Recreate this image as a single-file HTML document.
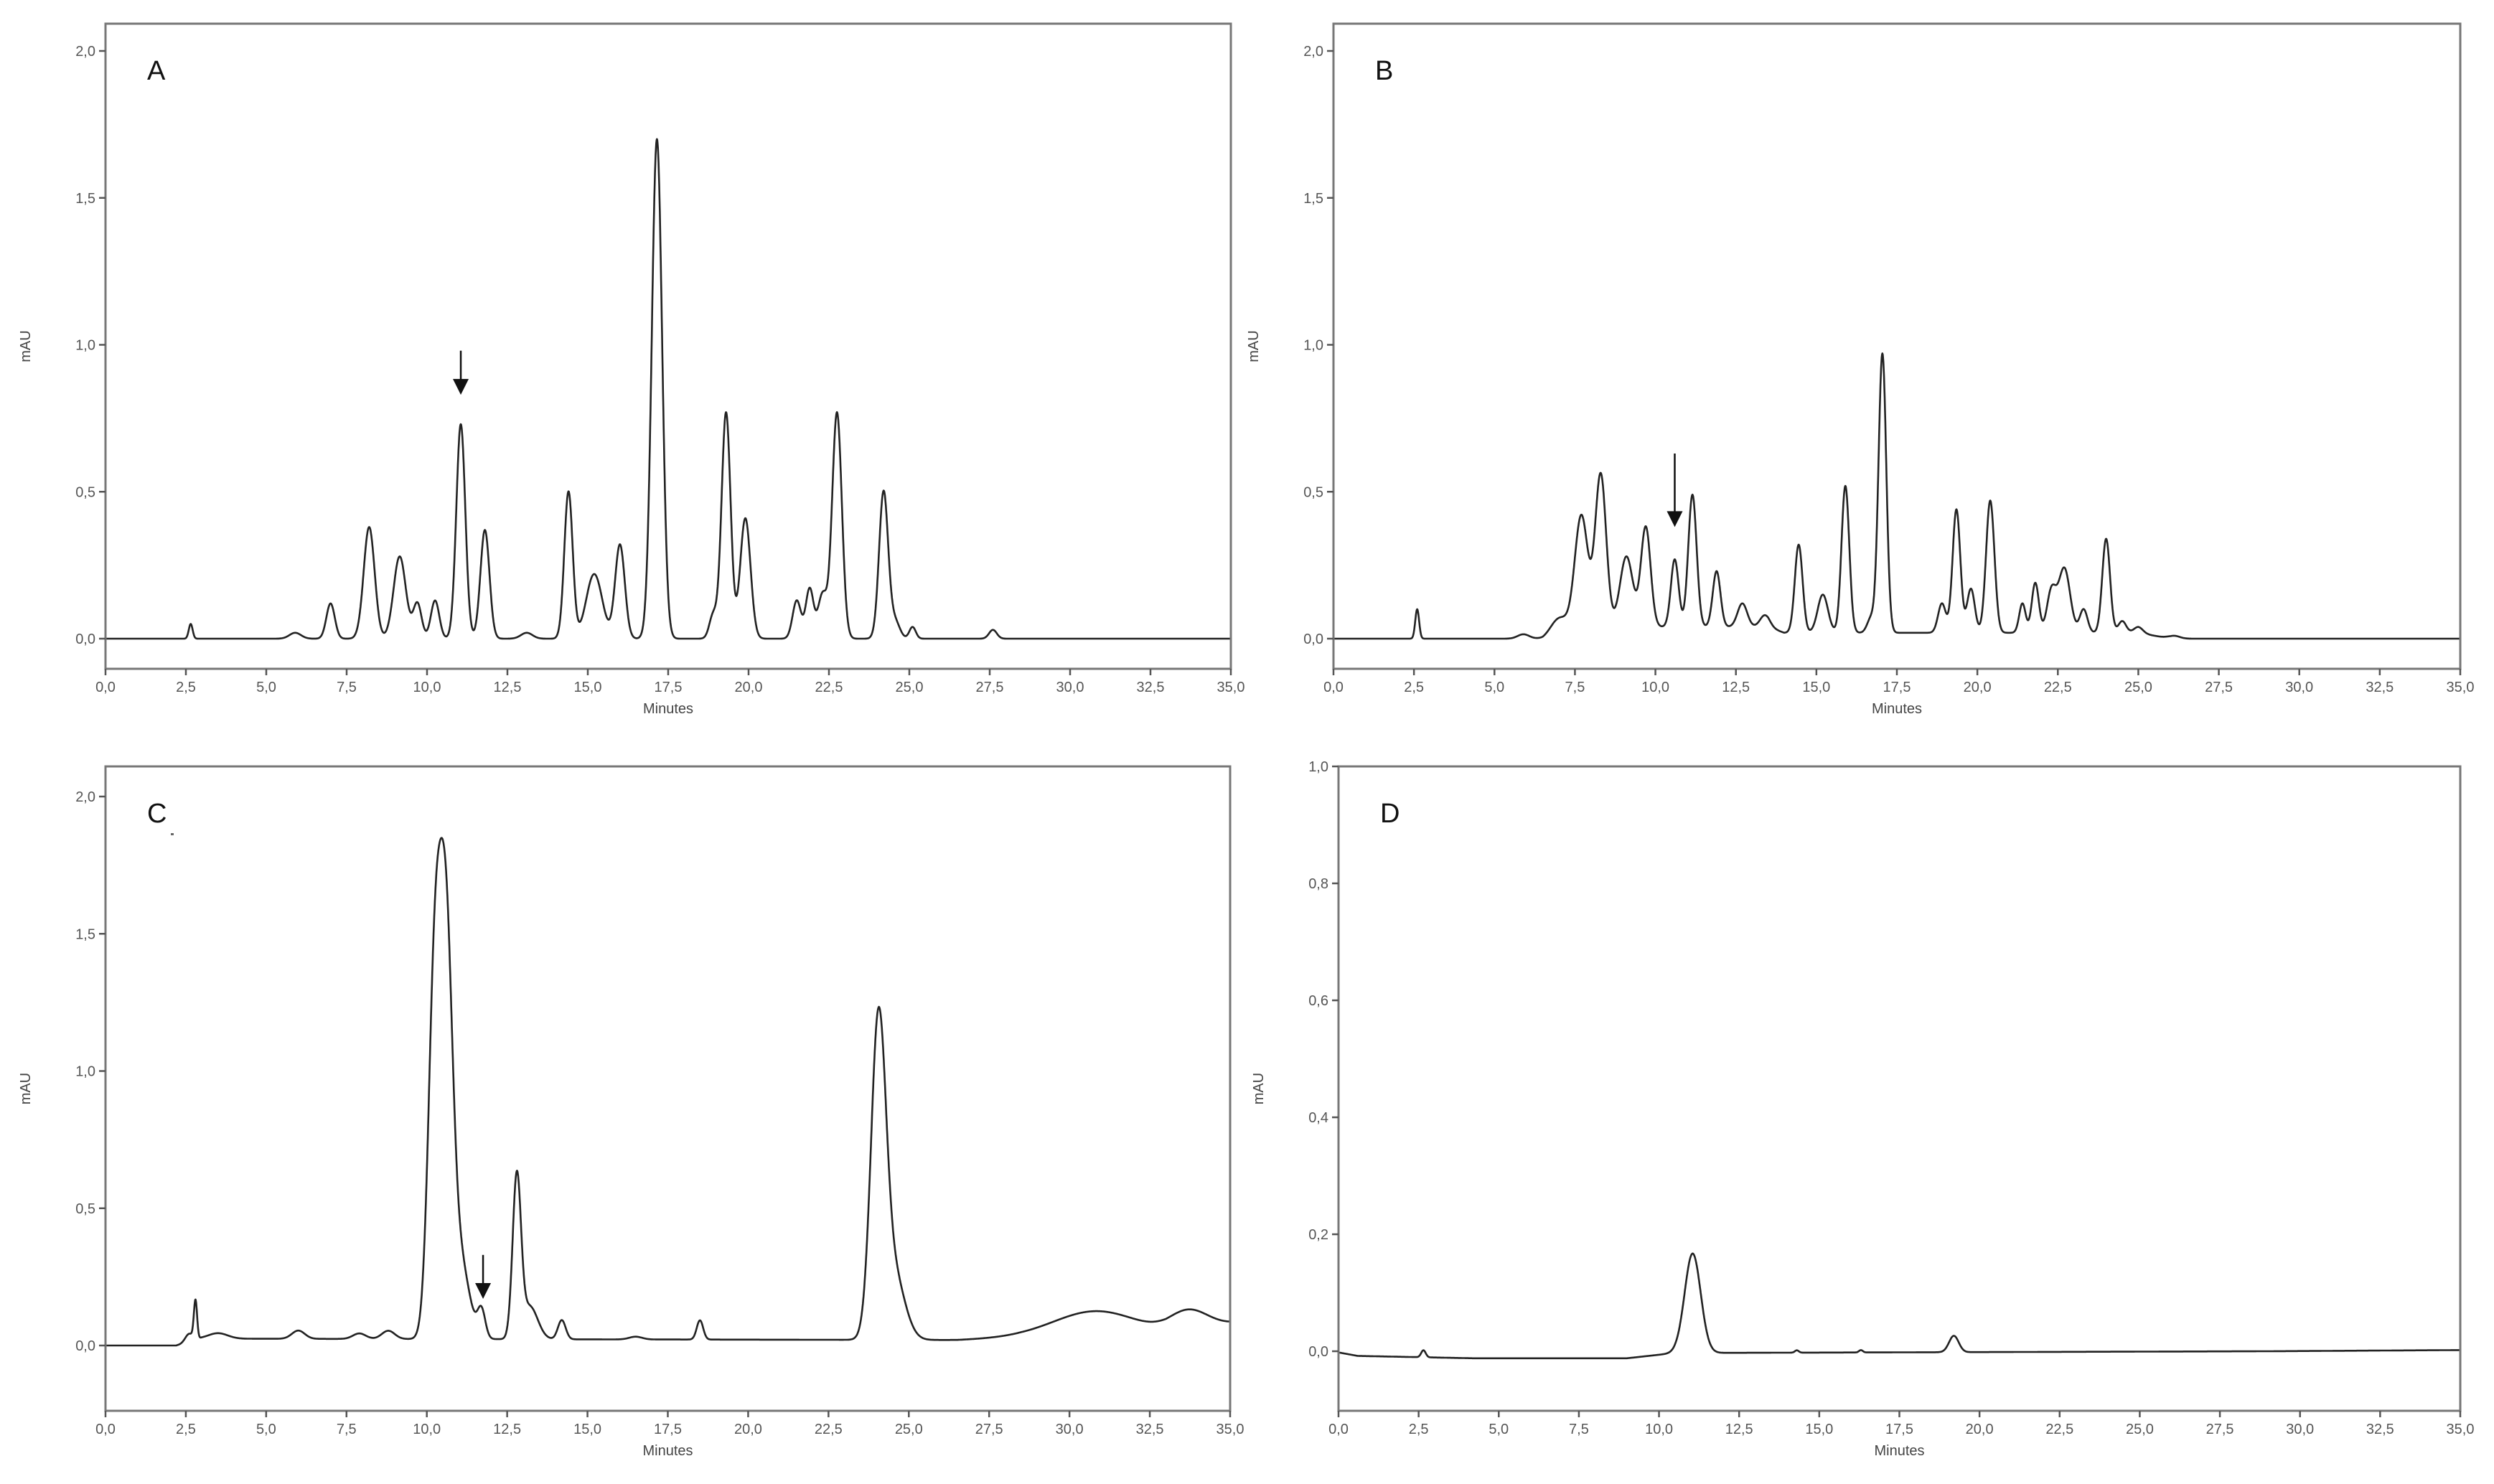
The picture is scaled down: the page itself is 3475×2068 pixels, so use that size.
<!DOCTYPE html>
<html><head><meta charset="utf-8"><style>
html,body{margin:0;padding:0;background:#fff}
svg{display:block}
text{font-family:"Liberation Sans",sans-serif}
</style></head><body>
<svg id="fig" width="3475" height="2068" viewBox="0 0 3475 2068" xmlns="http://www.w3.org/2000/svg"></svg>
<script>
// ---- data ----
const xTicks=[0,2.5,5,7.5,10,12.5,15,17.5,20,22.5,25,27.5,30,32.5,35];
const xTickLabels=["0,0","2,5","5,0","7,5","10,0","12,5","15,0","17,5","20,0","22,5","25,0","27,5","30,0","32,5","35,0"];
const yTicksAB=[0,0.5,1,1.5,2];
const yTickLabelsAB=["0,0","0,5","1,0","1,5","2,0"];
const yTicksC=[0,0.5,1,1.5,2];
const yTickLabelsC=["0,0","0,5","1,0","1,5","2,0"];
const yTicksD=[0,0.2,0.4,0.6,0.8,1.0];
const yTickLabelsD=["0,0","0,2","0,4","0,6","0,8","1,0"];

const peakTimesA=[2.65,5.9,7.0,8.2,9.15,9.7,10.25,11.05,11.8,13.1,14.4,15.2,16.0,17.15,18.9,19.3,19.9,21.5,21.9,22.3,22.75,24.2,24.55,25.1,27.6];
const peakHeightsA=[0.05,0.02,0.12,0.38,0.28,0.12,0.13,0.73,0.37,0.02,0.5,0.22,0.32,1.7,0.08,0.77,0.41,0.13,0.17,0.15,0.77,0.5,0.06,0.04,0.03];
const peakWidthsA=[0.06,0.18,0.13,0.17,0.19,0.13,0.13,0.14,0.14,0.18,0.13,0.25,0.15,0.16,0.12,0.14,0.16,0.13,0.12,0.14,0.15,0.14,0.15,0.1,0.12];

const peakTimesB=[2.6,5.9,7.0,7.7,8.3,9.1,9.7,10.6,11.15,11.9,12.7,13.4,14.45,15.2,15.9,16.7,17.05,18.9,19.35,19.8,20.4,21.4,21.8,22.3,22.7,23.3,24.0,24.5,25.0,26.1];
const peakHeightsB=[0.1,0.015,0.05,0.38,0.52,0.24,0.34,0.23,0.45,0.19,0.08,0.04,0.3,0.13,0.5,0.05,0.95,0.1,0.42,0.15,0.45,0.1,0.17,0.14,0.22,0.08,0.32,0.04,0.02,0.01];
const peakWidthsB=[0.06,0.18,0.25,0.2,0.17,0.2,0.15,0.12,0.13,0.12,0.15,0.15,0.12,0.16,0.12,0.12,0.12,0.12,0.12,0.12,0.13,0.1,0.11,0.14,0.18,0.12,0.12,0.12,0.14,0.18];
const baseTimesB=[0,6.5,7.5,13.5,14,25,26,35];
const baseValuesB=[0,0,0.04,0.04,0.02,0.02,0,0];

const peakTimesC=[2.6,2.8,3.5,6.0,7.9,8.8,10.25,10.6,11.0,11.7,12.8,13.2,14.2,16.5,18.5,24.05,24.5,30.8,33.7];
const peakHeightsC=[0.03,0.14,0.02,0.03,0.02,0.03,1.3,1.3,0.3,0.1,0.58,0.12,0.07,0.01,0.07,1.1,0.25,0.09,0.07];
const peakWidthsC=[0.12,0.05,0.3,0.2,0.2,0.2,0.2,0.2,0.3,0.12,0.13,0.25,0.12,0.2,0.1,0.23,0.35,1.3,0.6];
const baseTimesC=[0,2.2,3.0,26.5,28.5,33,35];
const baseValuesC=[0,0,0.025,0.02,0.03,0.04,0.08];

const peakTimesD=[2.65,11.05,14.3,16.3,19.2];
const peakHeightsD=[0.012,0.17,0.004,0.004,0.028];
const peakWidthsD=[0.07,0.25,0.06,0.06,0.15];
const baseTimesD=[0,0.6,4.2,9,10.5,29,35];
const baseValuesD=[-0.002,-0.008,-0.012,-0.012,-0.003,0,0.002];

const arrowA=[11.05,0.98,0.83];
const arrowB=[10.6,0.63,0.38];
const arrowC=[11.75,0.33,0.17];

// ---- panels ----
const panels=[
 {id:"a",label:"A",x0:147,x1:1715,top:33,bottom:932,yA:890,yB:71,vA:0,vB:2,ticks:yTicksAB,tl:yTickLabelsAB,pt:peakTimesA,ph:peakHeightsA,pw:peakWidthsA,bt:[0,35],bv:[0,0],arrow:arrowA},
 {id:"b",label:"B",x0:1858,x1:3428,top:33,bottom:932,yA:890,yB:71,vA:0,vB:2,ticks:yTicksAB,tl:yTickLabelsAB,pt:peakTimesB,ph:peakHeightsB,pw:peakWidthsB,bt:baseTimesB,bv:baseValuesB,arrow:arrowB},
 {id:"c",label:"C",x0:147,x1:1714,top:1068,bottom:1966,yA:1875,yB:1110,vA:0,vB:2,ticks:yTicksC,tl:yTickLabelsC,pt:peakTimesC,ph:peakHeightsC,pw:peakWidthsC,bt:baseTimesC,bv:baseValuesC,arrow:arrowC},
 {id:"d",label:"D",x0:1865,x1:3428,top:1068,bottom:1966,yA:1883,yB:1068,vA:0,vB:1,ticks:yTicksD,tl:yTickLabelsD,pt:peakTimesD,ph:peakHeightsD,pw:peakWidthsD,bt:baseTimesD,bv:baseValuesD,arrow:null}
];
const NS="http://www.w3.org/2000/svg";
const svg=document.getElementById('fig');
function mk(tag,attrs,parent){const e=document.createElementNS(NS,tag);for(const k in attrs)e.setAttribute(k,attrs[k]);(parent||svg).appendChild(e);return e;}
function baseAt(t,bt,bv){if(t<=bt[0])return bv[0];for(let i=1;i<bt.length;i++){if(t<=bt[i]){const f=(t-bt[i-1])/(bt[i]-bt[i-1]);return bv[i-1]+f*(bv[i]-bv[i-1]);}}return bv[bv.length-1];}

panels.forEach(p=>{
  const xs=t=>p.x0+(t/35)*(p.x1-p.x0);
  const ys=v=>p.yA+(v-p.vA)*(p.yB-p.yA)/(p.vB-p.vA);
  const g=mk('g',{});
  
  
  let d="";
  for(let i=0;i<=3500;i++){const t=i*0.01;let v=baseAt(t,p.bt,p.bv);
    for(let k=0;k<p.pt.length;k++){const z=(t-p.pt[k])/p.pw[k];v+=p.ph[k]*Math.exp(-0.5*z*z);}
    d+=(i?"L":"M")+xs(t).toFixed(1)+" "+ys(v).toFixed(1);}
  const tr=mk('path',{d:d,fill:"none",stroke:"#222",'stroke-width':2.6,'stroke-linejoin':'round'},g);
  
  
  const fr=mk('rect',{x:p.x0,y:p.top,width:p.x1-p.x0,height:p.bottom-p.top,fill:"none",stroke:"#777",'stroke-width':3},g);
  
  
  p.ticks.forEach((v,i)=>{
    const y=ys(v);
    mk('line',{x1:p.x0-9,x2:p.x0,y1:y,y2:y,stroke:"#555",'stroke-width':2.5},g);
    const tx=mk('text',{x:p.x0-14,y:y+7,'text-anchor':'end','font-size':20,fill:'#555'},g);
    tx.textContent=p.tl[i];
    
    
  });
  xTicks.forEach((t,i)=>{
    const x=xs(t);
    mk('line',{x1:x,x2:x,y1:p.bottom,y2:p.bottom+9,stroke:"#555",'stroke-width':2.5},g);
    const tx=mk('text',{x:x,y:p.bottom+32,'text-anchor':'middle','font-size':20,fill:'#555'},g);
    tx.textContent=xTickLabels[i];
    
    
  });
  const xt=mk('text',{x:(p.x0+p.x1)/2,y:p.bottom+62,'text-anchor':'middle','font-size':20,fill:'#444'},g);
  xt.textContent="Minutes";
  
  
  const cy=(p.top+p.bottom)/2;
  const yt=mk('text',{x:p.x0-105,y:cy,'text-anchor':'middle','font-size':20,fill:'#444',transform:'rotate(-90 '+(p.x0-105)+' '+cy+')'},g);
  yt.textContent="mAU";
  
  
  const lb=mk('text',{x:p.x0+58,y:p.top+78,'font-size':38,fill:'#111'},g);
  lb.textContent=p.label;
  
  
  if(p.arrow){
    const ax=xs(p.arrow[0]),y1=ys(p.arrow[1]),y2=ys(p.arrow[2]);
    const ag=mk('g',{},g);
    
    
    mk('line',{x1:ax,x2:ax,y1:y1,y2:y2-18,stroke:'#111','stroke-width':2.5},ag);
    mk('polygon',{points:(ax-11)+','+(y2-22)+' '+(ax+11)+','+(y2-22)+' '+ax+','+y2,fill:'#111'},ag);
  }
});
const sp=mk('rect',{x:238,y:1161,width:4,height:3,fill:'#666'});


</script>
</body></html>
